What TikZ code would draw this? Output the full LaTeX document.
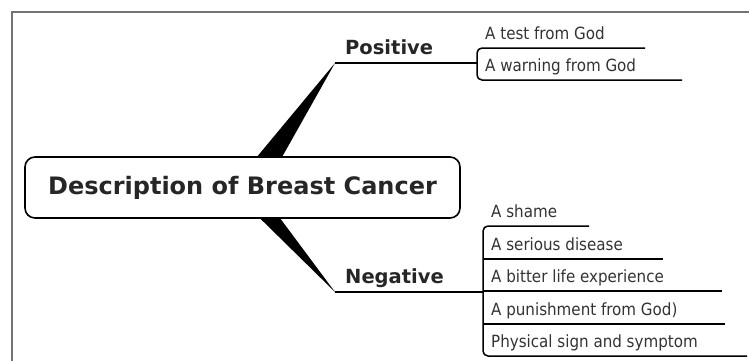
\documentclass[tikz,border=0pt]{standalone}
\usepackage{fontspec}
\setmainfont{DejaVu Sans Condensed}
\newfontfamily\headfont{DejaVu Sans}

\begin{document}
\begin{tikzpicture}[x = 1pt, y = -1pt]
    \useasboundingbox (0,0) rectangle (749,360);
    \draw[black!55, line width = 1.2pt] (12,361) -- (12,12) -- (750,12);   % frame

    \tikzset{RootStyle/.style = {draw, line width = 1.6pt, rounded corners = 10pt,
        minimum width = 435pt, minimum height = 61pt, text = black!85,
        font = \headfont\bfseries\fontsize{24}{28}\selectfont}}
    \tikzset{BranchStyle/.style = {anchor = base west, inner sep = 0pt, text = black!85,
        font = \headfont\bfseries\fontsize{19.5}{24}\selectfont}}
    \tikzset{LeafStyle/.style = {anchor = south west, inner xsep = 8pt, inner ysep = 0pt,
        text depth = 8pt, text = black!80, font = \fontsize{16.8}{20}\selectfont}}
    \tikzset{TwigStyle/.style = {line width = 1.5pt}}

    \node[RootStyle] (root) at (242.5,187.5) {Description of Breast Cancer};

    \coordinate (pos tip) at (335,63);
    \coordinate (neg tip) at (335,292);
    \node[BranchStyle] (pos) at (345,54) {Positive};
    \node[BranchStyle] (neg) at (345,283) {Negative};

    % tapered branches
    \fill ([xshift = 15pt]root.north) -- ([xshift = 40pt]root.north) -- (pos tip) -- cycle;
    \fill ([xshift = 18pt]root.south) -- ([xshift = 38pt]root.south) -- (neg tip) -- cycle;

    \node[LeafStyle] (t1) at (477,48) {A test from God};
    \node[LeafStyle] (t2) at (477,80) {A warning from God};

    \node[LeafStyle] (n1) at (483,226) {A shame};
    \node[LeafStyle] (n2) at (483,259) {A serious disease};
    \node[LeafStyle] (n3) at (483,291) {A bitter life experience};
    \node[LeafStyle] (n4) at (483,324) {A punishment from God)};
    \node[LeafStyle] (n5) at (483,356) {Physical sign and symptom};

    \draw[TwigStyle] (pos tip) -- (pos tip -| t1.south west);
    \draw[TwigStyle] (neg tip) -- (neg tip -| n1.south west);

    \draw[TwigStyle, rounded corners = 5pt] ([xshift = 168pt]t1.south west) -- (t1.south west)
        -- (t2.south west) -- ([xshift = 205pt]t2.south west);
    \draw[TwigStyle, rounded corners = 5pt] ([xshift = 106pt]n1.south west) -- (n1.south west)
        -- (n5.south west) -- ([xshift = 264pt]n5.south west);
    \foreach \leaf/\len in {n2/180, n3/239, n4/242}
        \draw[TwigStyle] (\leaf.south west) -- ([xshift = \len pt]\leaf.south west);

\end{tikzpicture}
\end{document}
